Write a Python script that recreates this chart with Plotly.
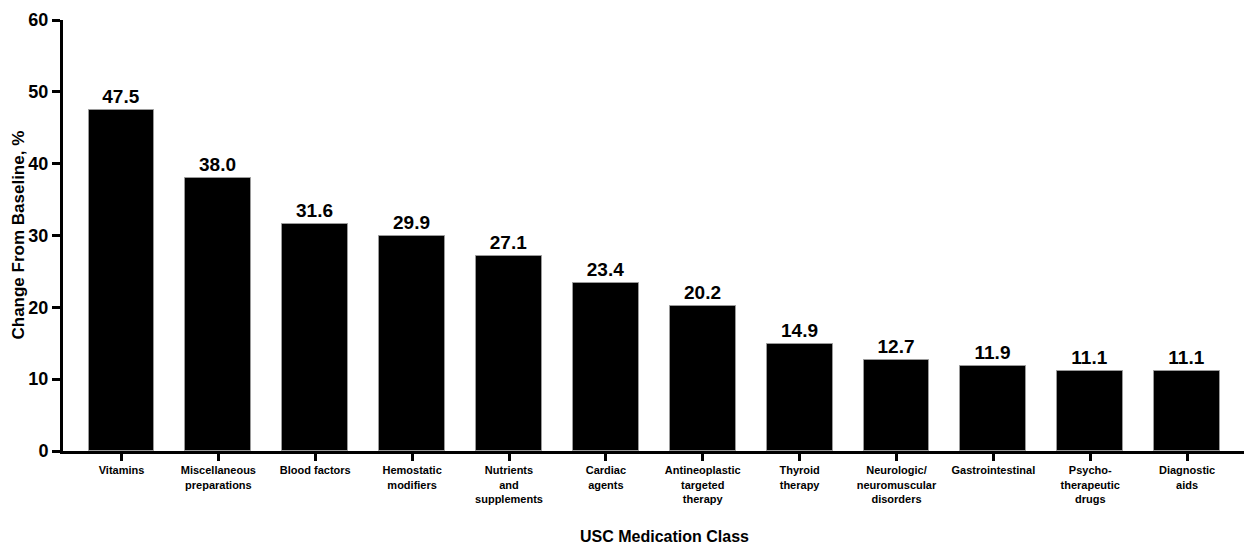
import plotly.graph_objects as go

categories = ["Vitamins", "Miscellaneous<br>preparations", "Blood factors", "Hemostatic<br>modifiers",
              "Nutrients<br>and<br>supplements", "Cardiac<br>agents", "Antineoplastic<br>targeted<br>therapy",
              "Thyroid<br>therapy", "Neurologic/<br>neuromuscular<br>disorders", "Gastrointestinal",
              "Psycho-<br>therapeutic<br>drugs", "Diagnostic<br>aids"]
values = [47.5, 38.0, 31.6, 29.9, 27.1, 23.4, 20.2, 14.9, 12.7, 11.9, 11.1, 11.1]
y_ticks = [0, 10, 20, 30, 40, 50, 60]

FONT = "Liberation Sans, Arial, sans-serif"
idx = list(range(len(categories)))

# page has an 8px body margin; size the figure to fit the 1252x545 window
W, H = 1244, 537
L, R, T, B = 54.5, 0, 11.5, 93.5
pw, ph = W - L - R, H - T - B

fig = go.Figure(go.Bar(
    x=idx, y=values, width=0.68,
    marker=dict(color="black", line=dict(color="#9a9a9a", width=1)),
    text=[f"{v:.1f}" for v in values], textposition="outside",
    textfont=dict(family=FONT, size=19, color="black", weight="bold"),
    cliponaxis=False,
))

fig.update_layout(
    width=W, height=H,
    margin=dict(l=L, r=R, t=T, b=B, autoexpand=False),
    plot_bgcolor="white", paper_bgcolor="white",
    showlegend=False,
    font=dict(family=FONT, color="black"),
    bargap=0,
    annotations=[
        dict(text="USC Medication Class", xref="paper", yref="paper",
             x=(656 - L) / pw, y=(H - B - 529) / ph, xanchor="center", yanchor="middle",
             showarrow=False, font=dict(family=FONT, size=16, color="black", weight="bold")),
        dict(text="Change From Baseline, %", xref="paper", yref="paper",
             x=(9 - L) / pw, y=(H - B - 227) / ph, xanchor="center", yanchor="middle",
             textangle=-90, showarrow=False,
             font=dict(family=FONT, size=17, color="black", weight="bold")),
    ],
)
fig.update_xaxes(
    range=[-0.604, 11.67], tickmode="array", tickvals=idx, ticktext=categories,
    showline=True, linecolor="black", linewidth=3, showgrid=False, zeroline=False,
    ticks="outside", ticklen=7, tickwidth=3, tickcolor="black", automargin=False,
    tickfont=dict(family=FONT, size=11, color="black", weight="bold"),
)
fig.update_yaxes(
    range=[0, 60], tickmode="array", tickvals=y_ticks,
    showline=True, linecolor="black", linewidth=3, showgrid=False, zeroline=False,
    ticks="outside", ticklen=8, tickwidth=3, tickcolor="black", automargin=False,
    tickfont=dict(family=FONT, size=18, color="black", weight="bold"),
)

fig.write_html("out.html")
